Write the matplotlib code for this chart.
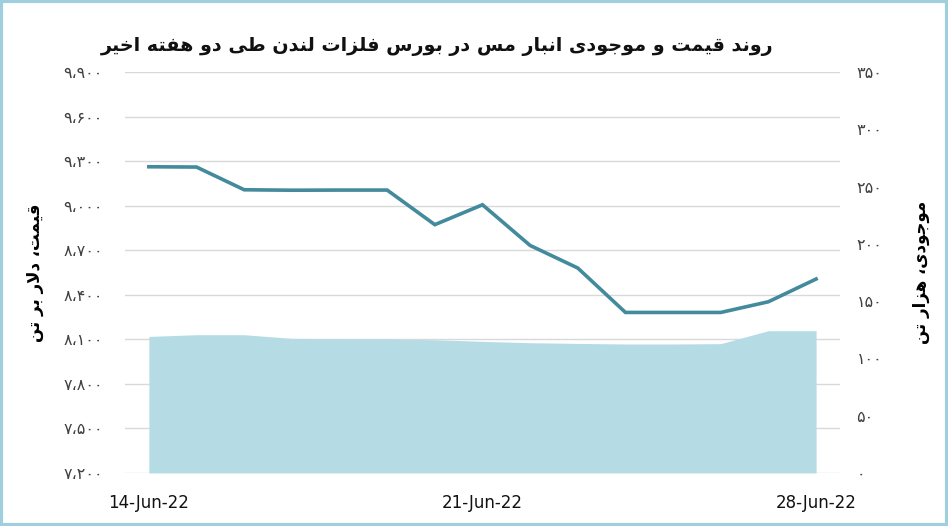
import numpy as np
import matplotlib
matplotlib.use("Agg")
import matplotlib.pyplot as plt
import matplotlib.dates as mdates
from matplotlib.patches import Rectangle

# ---------------- data ----------------
dates = ['2022-06-14', '2022-06-15', '2022-06-16', '2022-06-17', '2022-06-18',
         '2022-06-19', '2022-06-20', '2022-06-21', '2022-06-22', '2022-06-23',
         '2022-06-24', '2022-06-25', '2022-06-26', '2022-06-27', '2022-06-28']
price = [9262, 9260, 9107, 9104, 9105, 9105, 8872, 9006, 8732, 8580,
         8281, 8281, 8281, 8353, 8506]
inventory = [119.2, 120.7, 120.7, 117.5, 117.2, 117.0, 116.3, 114.9, 113.7, 113.1,
             112.6, 112.6, 112.9, 124.2, 124.2]
left_ticks = [7200, 7500, 7800, 8100, 8400, 8700, 9000, 9300, 9600, 9900]
right_ticks = [0, 50, 100, 150, 200, 250, 300, 350]
xtick_dates = ['2022-06-14', '2022-06-21', '2022-06-28']

title_text = "روند قیمت و موجودی انبار مس در بورس فلزات لندن طی دو هفته اخیر"
left_label = "قیمت، دلار بر تن"
right_label = "موجودی، هزار تن"

# ---------------- Persian shaping (presentation forms + RTL order) ----------------
FORMS = {
    'ا': ('\uFE8D', '\uFE8E', None, None),
    'ب': ('\uFE8F', '\uFE90', '\uFE91', '\uFE92'),
    'ت': ('\uFE95', '\uFE96', '\uFE97', '\uFE98'),
    'ج': ('\uFE9D', '\uFE9E', '\uFE9F', '\uFEA0'),
    'خ': ('\uFEA5', '\uFEA6', '\uFEA7', '\uFEA8'),
    'د': ('\uFEA9', '\uFEAA', None, None),
    'ر': ('\uFEAD', '\uFEAE', None, None),
    'ز': ('\uFEAF', '\uFEB0', None, None),
    'س': ('\uFEB1', '\uFEB2', '\uFEB3', '\uFEB4'),
    'ط': ('\uFEC1', '\uFEC2', '\uFEC3', '\uFEC4'),
    'ف': ('\uFED1', '\uFED2', '\uFED3', '\uFED4'),
    'ق': ('\uFED5', '\uFED6', '\uFED7', '\uFED8'),
    'ل': ('\uFEDD', '\uFEDE', '\uFEDF', '\uFEE0'),
    'م': ('\uFEE1', '\uFEE2', '\uFEE3', '\uFEE4'),
    'ن': ('\uFEE5', '\uFEE6', '\uFEE7', '\uFEE8'),
    'ه': ('\uFEE9', '\uFEEA', '\uFEEB', '\uFEEC'),
    'و': ('\uFEED', '\uFEEE', None, None),
    'ی': ('\uFBFC', '\uFBFD', '\uFBFE', '\uFBFF'),
    'LA': ('\uFEFB', '\uFEFC', None, None),
}


def shape(text):
    tokens = []
    i = 0
    while i < len(text):
        if text[i] == 'ل' and i + 1 < len(text) and text[i + 1] == 'ا':
            tokens.append('LA')
            i += 2
        else:
            tokens.append(text[i])
            i += 1
    out = []
    n = len(tokens)
    for k, t in enumerate(tokens):
        if t not in FORMS:
            out.append(t)
            continue
        f = FORMS[t]
        prev_j = k > 0 and tokens[k - 1] in FORMS and FORMS[tokens[k - 1]][2] is not None
        next_j = f[2] is not None and k + 1 < n and tokens[k + 1] in FORMS
        if prev_j and next_j:
            out.append(f[3])
        elif next_j:
            out.append(f[2])
        elif prev_j:
            out.append(f[1])
        else:
            out.append(f[0])
    return ''.join(reversed(out))


FA_DIGITS = str.maketrans('0123456789', '۰۱۲۳۴۵۶۷۸۹')


def fa_num(v, sep=True):
    s = f"{int(v):,}" if sep else f"{int(v)}"
    return s.replace(',', '،').translate(FA_DIGITS)


# ---------------- figure ----------------
plt.rcParams['font.family'] = ['DejaVu Sans']
fig = plt.figure(figsize=(9.48, 5.26), dpi=100)
fig.patch.set_facecolor('white')

ax = fig.add_axes([0.1319, 0.1008, 0.7541, 0.7623])
x = np.array(dates, dtype='datetime64[D]')
ax.plot(x, price, color='#428a9c', lw=2.6, solid_joinstyle='miter', zorder=3)
ax.set_ylim(left_ticks[0], left_ticks[-1])
ax.set_yticks(left_ticks)
ax.set_yticklabels([fa_num(v) for v in left_ticks], fontsize=11.5, color='#404040')
ax.grid(axis='y', color='#d9d9d9', lw=1.0)
ax.set_axisbelow(True)
ax.set_xlim(x[0] - np.timedelta64(12, 'h'), x[-1] + np.timedelta64(12, 'h'))
ax.set_xticks(np.array(xtick_dates, dtype='datetime64[D]'))
ax.xaxis.set_major_formatter(mdates.DateFormatter('%d-%b-%y'))
for lab in ax.get_xticklabels():
    lab.set_fontsize(12)
    lab.set_color('#111111')
ax.tick_params(axis='both', length=0)
ax.tick_params(axis='y', pad=16)
ax.tick_params(axis='x', pad=15)
for s in ax.spines.values():
    s.set_visible(False)

ax2 = ax.twinx()
ax2.fill_between(x, 0, inventory, color='#b5dce5', lw=0)
ax2.set_ylim(right_ticks[0], right_ticks[-1])
ax2.set_yticks(right_ticks)
ax2.set_yticklabels([fa_num(v, sep=False) for v in right_ticks], fontsize=11.5, color='#404040')
ax2.tick_params(axis='y', length=0, pad=12)
for s in ax2.spines.values():
    s.set_visible(False)

ax.set_ylabel(shape(left_label), fontsize=12, fontweight='bold', labelpad=14)
ax2.set_ylabel(shape(right_label), fontsize=12, fontweight='bold', rotation=90, labelpad=21)

fig.text(0.461, 0.911, shape(title_text), fontsize=13.8, fontweight='bold',
         ha='center', va='center', color='#111111')

fig.patches.append(Rectangle((0.0015, 0.0025), 0.997, 0.995, transform=fig.transFigure,
                             fill=False, edgecolor='#9fcfdf', lw=3))

fig.savefig('out.png', dpi=100, facecolor='white')
